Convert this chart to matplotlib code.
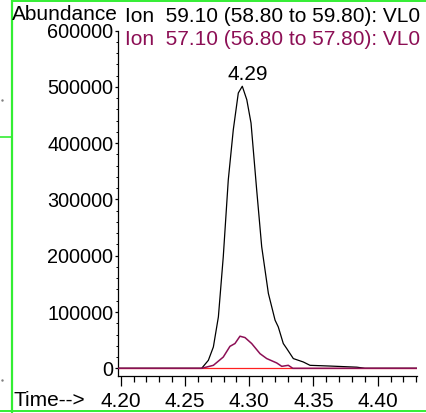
import matplotlib
matplotlib.use( 'Agg' )
import matplotlib.pyplot as plt
from matplotlib.ticker import MultipleLocator
from matplotlib.lines import Line2D

plt.rcParams['font.family'] = ['Liberation Sans', 'DejaVu Sans']

# ion 59.10 trace (black)
timeBlack = [4.1979, 4.2630, 4.2682, 4.2721, 4.2760, 4.2798, 4.2837, 4.2876, 4.2915, 4.2946,
             4.2981, 4.3014, 4.3058, 4.3097, 4.3149, 4.3201, 4.3226, 4.3265, 4.3292, 4.3343,
             4.3421, 4.3473, 4.3629, 4.3837, 4.3900, 4.4303]
abundBlack = [0, 0, 14200, 37900, 91300, 198000, 334600, 423700, 489000, 501000,
              477100, 435600, 316900, 216000, 133000, 85500, 73500, 44000, 35000, 17300,
              11200, 5300, 4000, 2000, 0, 0]

# ion 57.10 trace (purple)
timePurple = [4.1979, 4.2630, 4.2721, 4.2798, 4.2850, 4.2889, 4.2928, 4.2967, 4.3019, 4.3084,
              4.3136, 4.3214, 4.3253, 4.3304, 4.3339, 4.4303]
abundPurple = [0, 0, 5300, 20000, 39000, 44000, 57000, 54600, 44000, 26000,
               17300, 9500, 3500, 5300, 0, 0]

xTicks = [4.20, 4.25, 4.30, 4.35, 4.40]
yTicks = [0, 100000, 200000, 300000, 400000, 500000, 600000]
peakLabel = "4.29"

black = '#000000'
purple = '#8C0F55'
green = '#33EE33'

W, H = 426, 413
fig = plt.figure( figsize = ( W / 100, H / 100 ), dpi = 100 )
ax = fig.add_axes( [118 / W, ( H - 376.3 ) / H, 298.7 / W, ( 376.3 - 30.5 ) / H] )
ax.set_xlim( 4.1979, 4.4303 )
ax.set_ylim( -14200, 600000 )

ax.axhline( 0, color = '#FF2020', lw = 0.9, zorder = 1 )
ax.plot( timeBlack, abundBlack, color = black, lw = 0.9, zorder = 2 )
ax.plot( timePurple, abundPurple, color = purple, lw = 1.1, zorder = 3 )

for side in ['top', 'right']:
    ax.spines[side].set_visible( False )
ax.spines['left'].set_linewidth( 0.9 )
ax.spines['bottom'].set_linewidth( 0.9 )

ax.set_xticks( xTicks )
ax.set_xticklabels( ["%.2f" % t for t in xTicks] )
ax.xaxis.set_minor_locator( MultipleLocator( 0.01 ) )
ax.set_yticks( yTicks )
ax.set_yticklabels( [str( v ) for v in yTicks] )
ax.yaxis.set_minor_locator( MultipleLocator( 20000 ) )
ax.tick_params( axis = 'x', which = 'major', direction = 'out', length = 7.2, width = 0.9, pad = 3.9, labelsize = 15 )
ax.tick_params( axis = 'x', which = 'minor', direction = 'out', length = 4.3, width = 0.9 )
ax.tick_params( axis = 'y', which = 'major', direction = 'out', length = 2.4, width = 0.9, pad = 1, labelsize = 14.3 )
ax.tick_params( axis = 'y', which = 'minor', direction = 'out', length = 1.2, width = 0.7 )

fig.text( 248 / W, 1 - 80 / H, peakLabel, ha = 'center', va = 'baseline', fontsize = 15 )

fig.text( 12 / W, 1 - 20.5 / H, "Abundance", ha = 'left', va = 'baseline', fontsize = 15 )
fig.text( 125 / W, 1 - 21.5 / H, "Ion  59.10 (58.80 to 59.80): VL0", ha = 'left', va = 'baseline',
          fontsize = 15, color = black )
fig.text( 125 / W, 1 - 45 / H, "Ion  57.10 (56.80 to 57.80): VL0", ha = 'left', va = 'baseline',
          fontsize = 15, color = purple )
fig.text( 13 / W, 1 - 405.7 / H, "Time-->", ha = 'left', va = 'baseline', fontsize = 15 )

# green frame of the original window
fig.add_artist( Line2D( [11.5 / W, 11.5 / W], [0, 1], color = green, lw = 1.6, transform = fig.transFigure ) )
fig.add_artist( Line2D( [11.5 / W, 1], [1 - 0.8 / H, 1 - 0.8 / H], color = green, lw = 1.4, transform = fig.transFigure ) )
fig.add_artist( Line2D( [0, 1], [1 - 411 / H, 1 - 411 / H], color = green, lw = 1.4, transform = fig.transFigure ) )
fig.add_artist( Line2D( [0, 11 / W], [1 - 137 / H, 1 - 137 / H], color = green, lw = 1.2, transform = fig.transFigure ) )
# stray dots at the left edge
fig.add_artist( Line2D( [1.5 / W, 1.5 / W], [1 - 100 / H, 1 - 380 / H], linestyle = 'none', marker = 's',
                        markersize = 0.7, color = '#808080', transform = fig.transFigure ) )

fig.savefig( "out.png", dpi = 100 )
